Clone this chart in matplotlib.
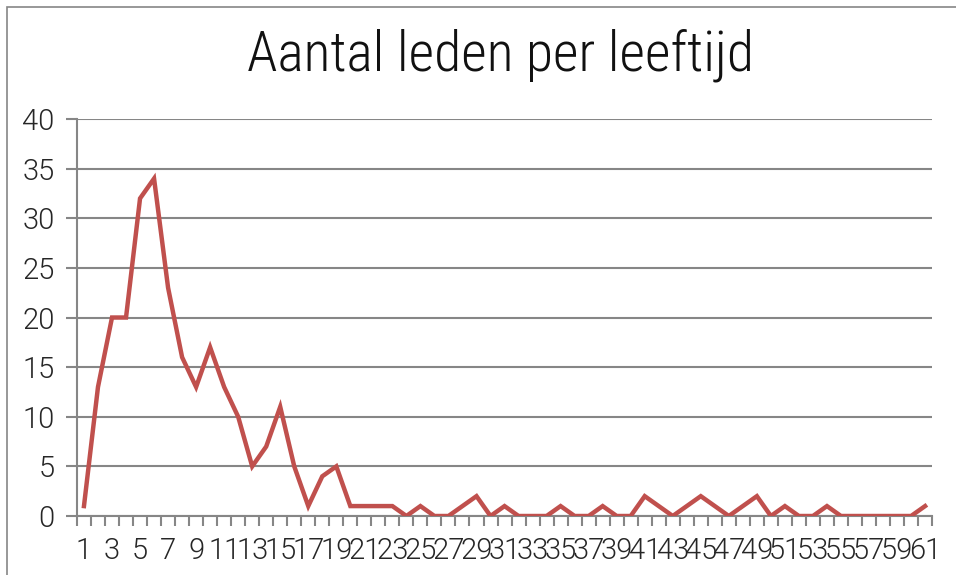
import matplotlib.pyplot as plt
import numpy as np
from matplotlib.patches import Rectangle

# leeftijden (categorieen) en aantal leden
ages = list(range(1, 62))
members = [1, 13, 20, 20, 32, 34, 23, 16, 13, 17,
           13, 10, 5, 7, 11, 5, 1, 4, 5, 1,
           1, 1, 1, 0, 1, 0, 0, 1, 2, 0,
           1, 0, 0, 0, 1, 0, 0, 1, 0, 0,
           2, 1, 0, 1, 2, 1, 0, 1, 2, 0,
           1, 0, 0, 1, 0, 0, 0, 0, 0, 0,
           1]
title = "Aantal leden per leeftijd"
yticks = [0, 5, 10, 15, 20, 25, 30, 35, 40]

plt.rcParams['font.family'] = ['Roboto', 'DejaVu Sans']
plt.rcParams['font.weight'] = 300

fig = plt.figure(figsize=(9.56, 5.75), dpi=100)
ax = fig.add_axes([0.0805, 0.1026, 0.8945, 0.6904])

grey = '#868686'
x = np.arange(1, len(ages) + 1)
ax.plot(x, members, color='#C0504D', linewidth=3.2, solid_joinstyle='miter', zorder=3)

ax.set_xlim(0.5, len(ages) + 0.5)
ax.set_ylim(0, 40)
ax.set_yticks(yticks)
ax.set_yticklabels([str(v) for v in yticks], fontsize=21, color='#262626')
ax.grid(axis='y', color=grey, linewidth=1.5)
ax.set_axisbelow(True)

# labels op oneven leeftijden, streepjes tussen de categorieen
ax.set_xticks(x[::2])
ax.set_xticklabels([str(a) for a in ages[::2]], fontsize=21, color='#262626')
ax.set_xticks(np.arange(0.5, len(ages) + 1, 1), minor=True)
ax.tick_params(axis='x', which='major', length=0, pad=15)
ax.tick_params(axis='x', which='minor', length=7, width=1.5, color=grey)
ax.tick_params(axis='y', length=8, width=1.5, color=grey, pad=8)

for s in ['top', 'right']:
    ax.spines[s].set_visible(False)
ax.spines['left'].set_color(grey)
ax.spines['left'].set_linewidth(1.5)
ax.spines['bottom'].set_color(grey)
ax.spines['bottom'].set_linewidth(1.5)

fig.text(501 / 956, 0.878, title, ha='center', va='baseline', fontsize=40,
         family=['Roboto Condensed', 'DejaVu Sans'], weight=300, color='#111111')

# rand om de grafiek
fig.patches.append(Rectangle((7 / 956, -0.1), 1.2, (575 - 7) / 575 + 0.1,
                             transform=fig.transFigure, fill=False,
                             edgecolor=grey, linewidth=1.2))

fig.savefig('out.png', dpi=100)
